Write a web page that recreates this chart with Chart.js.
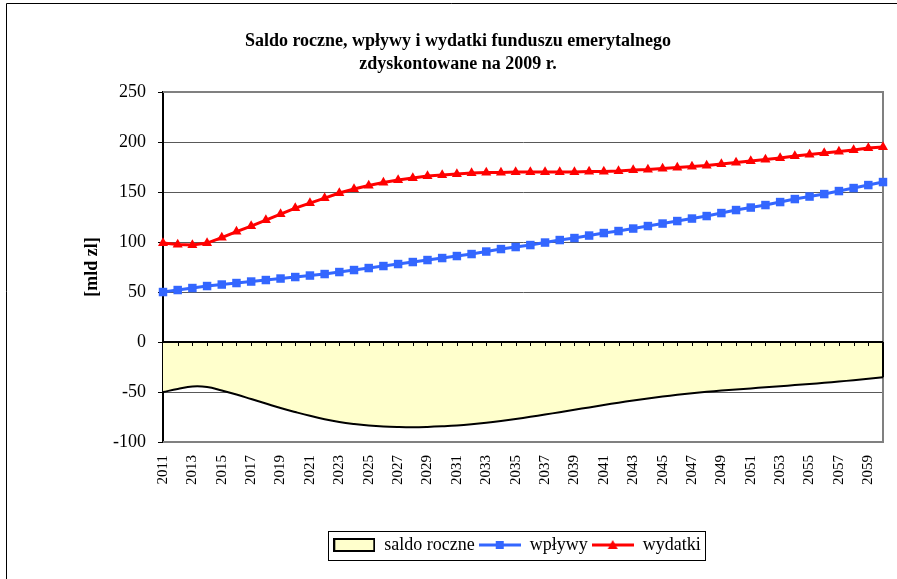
<!DOCTYPE html>
<html>
<head>
<meta charset="utf-8">
<script src="https://cdn.jsdelivr.net/npm/chart.js@4.4.1/dist/chart.umd.min.js"></script>
<style>
html,body{margin:0;padding:0;background:#fff;}
#wrap{width:897px;height:579px;position:relative;}
</style>
</head>
<body>
<div id="wrap"><canvas id="c" width="897" height="579"></canvas></div>
<script>
const years = ['2011','2012','2013','2014','2015','2016','2017','2018','2019','2020',
  '2021','2022','2023','2024','2025','2026','2027','2028','2029','2030',
  '2031','2032','2033','2034','2035','2036','2037','2038','2039','2040',
  '2041','2042','2043','2044','2045','2046','2047','2048','2049','2050',
  '2051','2052','2053','2054','2055','2056','2057','2058','2059','2060'];

const saldoRoczne = [-50,-47,-44.5,-45,-48.5,-52.5,-57,-61.5,-66,-70,
  -73.8,-77.2,-80,-82,-83.5,-84.5,-85,-85.2,-84.9,-84.3,
  -83.5,-82.3,-80.8,-79,-77,-74.8,-72.5,-70.2,-67.8,-65.4,
  -63,-60.7,-58.5,-56.4,-54.5,-52.8,-51.2,-49.8,-48.6,-47.5,
  -46.4,-45.3,-44.2,-43.1,-42,-40.8,-39.5,-38.2,-36.8,-35.3];

const wplywy = [50,52,54,56,57.5,59,60.5,62,63.5,65,
  66.5,68,70,72,74,76,78,80,82,84,
  86,88,90.5,93,95,97,99.5,102,104,106.5,
  109,111,113.5,116,118.5,121,123.5,126,129,132,
  134.5,137,140,143,145.5,148,151,154,157,160];

const wydatki = [99,97.5,97,99,104.5,110.5,116,122,128,134,
  139,144,149,153,156.5,159.5,162,164,166,167,
  168,169,169.5,169.5,170,170,170,170,170,170.5,
  170.5,171,172,172.5,173.5,174.5,175.5,176.5,178,179.5,
  181,182.5,184,186,187.5,189,190.5,192,194,195];

const seriesNames = ['saldo roczne', 'wpływy', 'wydatki'];
const titleLines = ['Saldo roczne, wpływy i wydatki funduszu emerytalnego', 'zdyskontowane na 2009 r.'];
const yAxisTitle = '[mld zl]';
const yMin = -100, yMax = 250, yStep = 50;

const FONT = "'Liberation Serif', 'Times New Roman', serif";
Chart.defaults.font.family = FONT;
Chart.defaults.color = '#000';

const BLUE = '#3366FF', RED = '#FF0000', FILL = '#FFFFCC';

function makeIcon(kind) {
  const cv = document.createElement('canvas');
  cv.width = 42; cv.height = 14;
  const g = cv.getContext('2d');
  if (kind === 'area') {
    g.fillStyle = FILL; g.fillRect(1, 1, 40, 12);
    g.strokeStyle = '#000'; g.lineWidth = 2; g.strokeRect(1, 1, 40, 12);
  } else {
    const col = kind === 'rect' ? BLUE : RED;
    g.strokeStyle = col; g.lineWidth = 3;
    g.beginPath(); g.moveTo(0, 7); g.lineTo(42, 7); g.stroke();
    g.fillStyle = col;
    if (kind === 'rect') { g.fillRect(17, 3, 8, 8); }
    else { g.beginPath(); g.moveTo(21, 2); g.lineTo(26, 11); g.lineTo(16, 11); g.closePath(); g.fill(); }
  }
  return cv;
}
const legendIcons = [makeIcon('area'), makeIcon('rect'), makeIcon('tri')];

const decor = {
  id: 'decor',
  beforeDraw(chart) {
    const {ctx, width, height} = chart;
    ctx.save(); ctx.fillStyle = '#fff'; ctx.fillRect(0, 0, width, height); ctx.restore();
  },
  afterLayout(chart) {
    const lg = chart.legend;
    if (lg) { lg.left += 59; lg.right += 59; }
  },
  beforeDatasetsDraw(chart) {
    const {ctx, chartArea: a} = chart;
    ctx.save();
    ctx.strokeStyle = '#808080'; ctx.lineWidth = 2;
    ctx.beginPath();
    ctx.moveTo(a.left, a.top); ctx.lineTo(a.right, a.top);
    ctx.lineTo(a.right, a.bottom); ctx.lineTo(a.left, a.bottom);
    ctx.stroke();
    ctx.restore();
  },
  afterDatasetsDraw(chart) {
    const {ctx, chartArea: a, scales} = chart;
    const y0 = scales.y.getPixelForValue(0);
    ctx.save();
    ctx.strokeStyle = '#000';
    ctx.lineWidth = 2;
    ctx.beginPath();
    ctx.moveTo(a.left, y0); ctx.lineTo(a.right, y0);
    const yl = scales.y.getPixelForValue(saldoRoczne[saldoRoczne.length - 1]);
    ctx.moveTo(a.right, y0); ctx.lineTo(a.right, yl);
    ctx.stroke();
    ctx.lineWidth = 1;
    ctx.beginPath();
    for (let i = 1; i < years.length; i++) {
      const x = Math.round(scales.x.getPixelForValue(i)) + 0.5;
      ctx.moveTo(x, y0); ctx.lineTo(x, y0 + 4);
    }
    ctx.stroke();
    ctx.restore();
  },
  afterDraw(chart) {
    const {ctx} = chart;
    ctx.save();
    const hb = chart.legend && chart.legend.legendHitBoxes;
    if (hb && hb.length) {
      let l = Infinity, r = -Infinity, t = Infinity, b = -Infinity;
      hb.forEach(h => { l = Math.min(l, h.left); r = Math.max(r, h.left + h.width); t = Math.min(t, h.top); b = Math.max(b, h.top + h.height); });
      ctx.strokeStyle = '#000'; ctx.lineWidth = 1;
      ctx.strokeRect(Math.round(l - 5) + 0.5, Math.round(t - 5) + 0.5, Math.round(r - l + 10), Math.round(b - t + 11));
    }
    ctx.strokeStyle = '#000'; ctx.lineWidth = 1;
    ctx.beginPath();
    ctx.moveTo(6.5, 579); ctx.lineTo(6.5, 3.5); ctx.lineTo(897, 3.5);
    ctx.stroke();
    ctx.restore();
  }
};

new Chart(document.getElementById('c'), {
  type: 'line',
  data: {
    labels: years,
    datasets: [
      {
        label: seriesNames[0], data: saldoRoczne,
        borderColor: '#000', borderWidth: 2, backgroundColor: FILL,
        fill: 'origin', pointRadius: 0, tension: 0.4
      },
      {
        label: seriesNames[1], data: wplywy,
        borderColor: BLUE, borderWidth: 3, backgroundColor: BLUE,
        pointStyle: 'rect', pointRadius: 6, pointBorderWidth: 0,
        pointBackgroundColor: BLUE, fill: false, tension: 0
      },
      {
        label: seriesNames[2], data: wydatki,
        borderColor: RED, borderWidth: 3, backgroundColor: RED,
        pointStyle: 'triangle', pointRadius: 5.8, pointBorderWidth: 0,
        pointBackgroundColor: RED, fill: false, tension: 0
      }
    ]
  },
  options: {
    responsive: false,
    animation: false,
    events: [],
    layout: { padding: { left: 33, right: 14, top: 0, bottom: 15 } },
    plugins: {
      tooltip: { enabled: false },
      title: {
        display: true, text: titleLines, color: '#000',
        font: { size: 18, weight: 'bold', lineHeight: 1.28 },
        padding: { top: 30, bottom: 16 }
      },
      legend: {
        position: 'bottom',
        labels: {
          usePointStyle: true, pointStyleWidth: 42, boxHeight: 14,
          padding: 4, color: '#000', font: { size: 18 },
          generateLabels(chart) {
            const items = Chart.defaults.plugins.legend.labels.generateLabels(chart);
            items.forEach((it, i) => { it.pointStyle = legendIcons[i]; it.lineWidth = 0; });
            return items;
          }
        }
      }
    },
    scales: {
      x: {
        type: 'category',
        grid: { display: false, drawTicks: false },
        border: { display: false },
        ticks: {
          autoSkip: false, maxRotation: 90, minRotation: 90, padding: 13,
          font: { size: 15 }, color: '#000',
          callback: (v, i) => (i % 2 === 0 ? years[i] : '')
        },
        afterFit: (s) => { s.height = 90; s.paddingRight = 0; s.paddingLeft = 0; }
      },
      y: {
        min: yMin, max: yMax,
        ticks: { stepSize: yStep, padding: 12, font: { size: 18 }, color: '#000' },
        grid: {
          color: '#595959', lineWidth: 1,
          drawTicks: true, tickLength: 5, tickColor: '#000', tickWidth: 1
        },
        border: { display: true, color: '#000', width: 2 },
        title: {
          display: true, text: yAxisTitle, color: '#000',
          font: { size: 18, weight: 'bold' }, padding: { top: 49, bottom: 0 }
        },
        afterFit: (s) => { s.width = 130; }
      }
    }
  },
  plugins: [decor]
});
</script>
</body>
</html>
